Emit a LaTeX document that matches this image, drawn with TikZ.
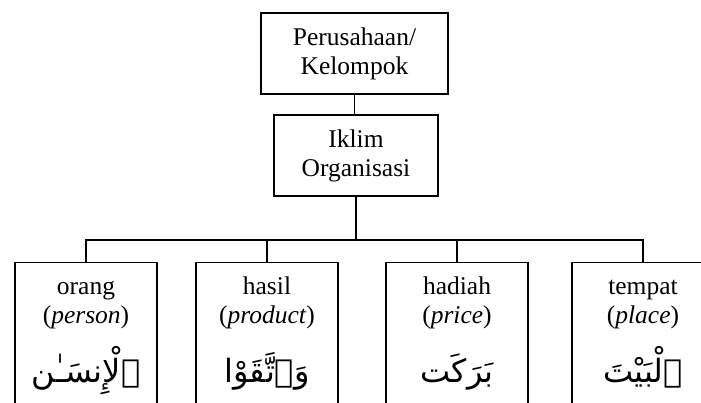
\documentclass[tikz,border=0pt]{standalone}
\usepackage{fontspec}
\setmainfont{Liberation Serif}
\newfontfamily\arabicfont[Script=Arabic]{DejaVu Sans}
\TeXXeTstate=1
\usetikzlibrary{positioning}

\tikzset{
  box/.style={draw, line width=1.2pt, minimum height=81pt, align=center, inner sep=0pt},
  leaf/.style={draw, line width=1.2pt, minimum width=142pt, minimum height=160pt, anchor=north},
  lbl/.style={align=center, anchor=north, inner sep=0pt},
  arab/.style={anchor=base, inner sep=0pt, font=\arabicfont\fontsize{32}{36}\selectfont},
  conn/.style={line width=1.2pt}
}

\begin{document}
\begin{tikzpicture}[x=1pt,y=-1pt,font=\fontsize{25.5}{29}\selectfont]
\useasboundingbox (0,0) rectangle (701,403);
% upper boxes
\node[box, minimum width=187pt] (firm) at (354.5,53.5) {Perusahaan/\\Kelompok};
\node[box, minimum width=164pt] (climate) at (356,155.5) {Iklim\\Organisasi};
% lower boxes
\node[leaf] (person) at (86,262) {};
\node[leaf] (product) at (267,262) {};
\node[leaf] (price) at (457,262) {};
\node[leaf] (place) at (643,262) {};
% labels
\node[lbl] (lperson) at ([yshift=-12pt]person.north) {\strut orang\\(\textit{person})};
\node[lbl] (lproduct) at ([yshift=-12pt]product.north) {\strut hasil\\(\textit{product})};
\node[lbl] (lprice) at ([yshift=-12pt]price.north) {\strut hadiah\\(\textit{price})};
\node[lbl] (lplace) at ([yshift=-12pt]place.north) {\strut tempat\\(\textit{place})};
% arabic words
\node[arab] (aperson) at ([yshift=-120pt]person.north) {\beginR ٱلْإِنسَـٰن\endR};
\node[arab] (aproduct) at ([yshift=-120pt]product.north) {\beginR وَٱتَّقَوْا\endR};
\node[arab] (aprice) at ([yshift=-120pt]price.north) {\beginR بَرَكَت\endR};
\node[arab] (aplace) at ([yshift=-120pt]place.north) {\beginR ٱلْبَيْتَ\endR};
% connectors
\coordinate (fork) at (356,240);
\draw[conn] (firm.south) -- (firm.south |- climate.north);
\draw[conn] (climate.south) -- (fork);
\draw[conn] (person.north) |- (fork) -| (place.north);
\draw[conn] (product.north) -- (product.north |- fork);
\draw[conn] (price.north) -- (price.north |- fork);
\end{tikzpicture}
\end{document}
